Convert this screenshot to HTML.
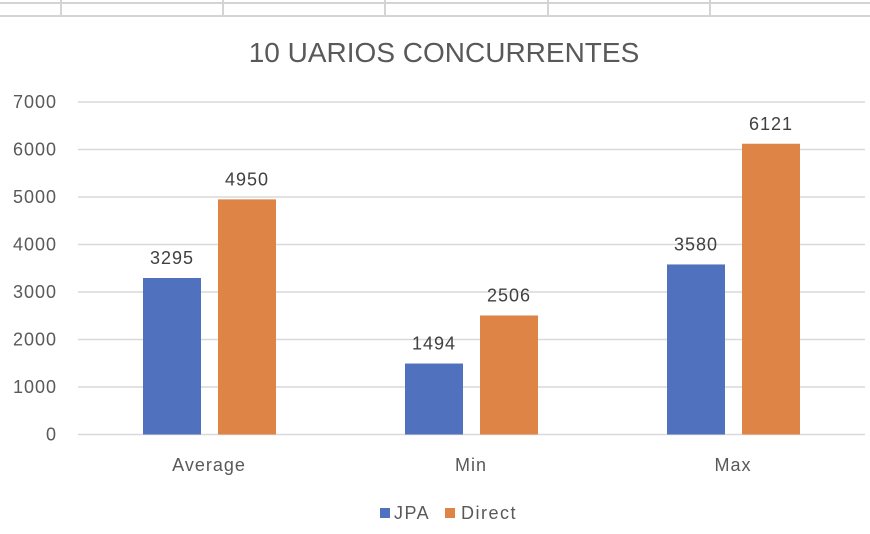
<!DOCTYPE html>
<html><head><meta charset="utf-8"><style>
body{margin:0;background:#fff}
svg{display:block;font-family:"Liberation Sans",sans-serif}
</style></head><body>
<svg id="c" width="870" height="534">
<g stroke="#d4d4d4" stroke-width="2">
<line x1="0" y1="3" x2="870" y2="3"/><line x1="0" y1="16" x2="870" y2="16"/>
<line x1="61" y1="0" x2="61" y2="16"/><line x1="223" y1="0" x2="223" y2="16"/>
<line x1="385" y1="0" x2="385" y2="16"/><line x1="548" y1="0" x2="548" y2="16"/>
<line x1="710" y1="0" x2="710" y2="16"/>
</g>
<text x="444" y="62" text-anchor="middle" font-size="28" fill="#595959">10 UARIOS CONCURRENTES</text>
<g id="grid"></g><g id="bars"></g>
<g letter-spacing="1.5">
<rect x="380" y="508" width="10" height="10" fill="#4f71be"/>
<text x="394" y="519" font-size="18" fill="#595959">JPA</text>
<rect x="445" y="508" width="10" height="10" fill="#dd8446"/>
<text x="461" y="519" font-size="18" fill="#595959">Direct</text>
</g>
</svg>
<script>
const categories=["Average","Min","Max"];
const jpa=[3295,1494,3580];
const direct=[4950,2506,6121];
const ticks=[0,1000,2000,3000,4000,5000,6000,7000];
const NS="http://www.w3.org/2000/svg";
const y=v=>434.5-v*(332.5/7000);
const cx=i=>209+i*262;
function mk(t,a,p){const e=document.createElementNS(NS,t);for(const k in a)e.setAttribute(k,a[k]);p.appendChild(e);return e;}
const g=document.getElementById('grid'),b=document.getElementById('bars');
ticks.forEach(t=>{
 const l=mk('line',{x1:78,x2:865,y1:y(t),y2:y(t),stroke:'#d9d9d9','stroke-width':1.5},g);
 
 
 const tx=mk('text',{x:57,y:y(t)+6,'text-anchor':'end','font-size':18,'letter-spacing':1,fill:'#595959'},g);tx.textContent=t;
 
 
});
categories.forEach((c,i)=>{
 [[jpa,'#4f71be',-66,'jpa'],[direct,'#dd8446',9,'direct']].forEach(([arr,col,off,n])=>{
  const v=arr[i],x=cx(i)+off;
  const r=mk('rect',{x:x,y:y(v),width:58,height:y(0)-y(v),fill:col},b);
  
  
  const t=mk('text',{x:x+29,y:y(v)-14,'text-anchor':'middle','font-size':18,'letter-spacing':1,fill:'#404040'},b);t.textContent=v;
  
  
 });
 const t=mk('text',{x:cx(i),y:471,'text-anchor':'middle','font-size':18,'letter-spacing':1,fill:'#595959'},b);t.textContent=c;
 
 
});
</script>
</body></html>
